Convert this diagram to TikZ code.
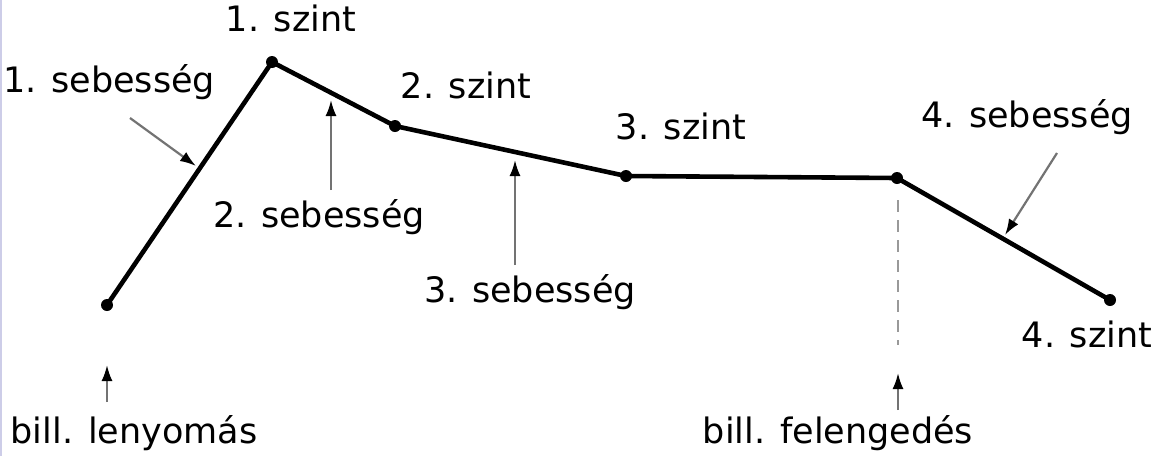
\documentclass[tikz,border=0pt]{standalone}
\usepackage{fontspec}
\setmainfont{DejaVu Sans}
\usetikzlibrary{arrows.meta}
\definecolor{edge}{RGB}{205,205,232}

\begin{document}
\begin{tikzpicture}[x=1pt, y=-1pt,
    lbl/.style={inner sep=0pt, font=\fontsize{35}{40}\selectfont},
    curve/.style={line width=4.6pt, line join=round},
    vdot/.style={fill=black},
    pointer/.style={draw=black!55, line width=2.2pt, -{Latex[length=16pt,width=11pt,black]}},
    release/.style={draw=black!40, line width=2.2pt, dashed, dash pattern=on 12pt off 8pt}
]
    \useasboundingbox (0,0) rectangle (1162,456);
    \draw[edge, line width=2pt] (1,0) -- (1,456);

    % corner points of the curve
    \coordinate (v0) at (107,305);
    \coordinate (v1) at (272,62);
    \coordinate (v2) at (395,126);
    \coordinate (v3) at (626,176);
    \coordinate (v4) at (897,178);
    \coordinate (v5) at (1110,300);
    \draw[curve] (v0) -- (v1) -- (v2) -- (v3) -- (v4) -- (v5);
    \foreach \v in {v0,v1,v2,v3,v4,v5}
        \fill[vdot] (\v) circle (6pt);

    % labels
    \node[lbl, anchor=base] (sz1) at (291,31) {1. szint};
    \node[lbl, anchor=base] (sz2) at (466,98) {2. szint};
    \node[lbl, anchor=base] (sz3) at (681,139) {3. szint};
    \node[lbl, anchor=base] (sz4) at (1087,347) {4. szint};
    \node[lbl, anchor=base west] (seb1) at (3,92) {1. sebesség};
    \node[lbl, anchor=base] (seb2) at (319,227) {2. sebesség};
    \node[lbl, anchor=base] (seb3) at (530,302) {3. sebesség};
    \node[lbl, anchor=base] (seb4) at (1027,127) {4. sebesség};
    \node[lbl, anchor=base] (press) at (134,443) {bill. lenyomás};
    \node[lbl, anchor=base] (lift) at (838,443) {bill. felengedés};

    % pointers
    \coordinate (t1) at (130,118);  \coordinate (h1) at (196,166);
    \coordinate (t2) at (331,190);  \coordinate (h2) at (331,100);
    \coordinate (t3) at (515,265);  \coordinate (h3) at (515,160);
    \coordinate (t4) at (1057,153); \coordinate (h4) at (1005,235);
    \coordinate (t5) at (107,402);  \coordinate (h5) at (107,365);
    \coordinate (t6) at (898,410);  \coordinate (h6) at (898,373);
    \foreach \i in {1,...,6}
        \draw[pointer] (t\i) -- (h\i);
    \coordinate (d0) at (898,200);
    \coordinate (d1) at (898,345);
    \draw[release] (d0) -- (d1);
\end{tikzpicture}
\end{document}
